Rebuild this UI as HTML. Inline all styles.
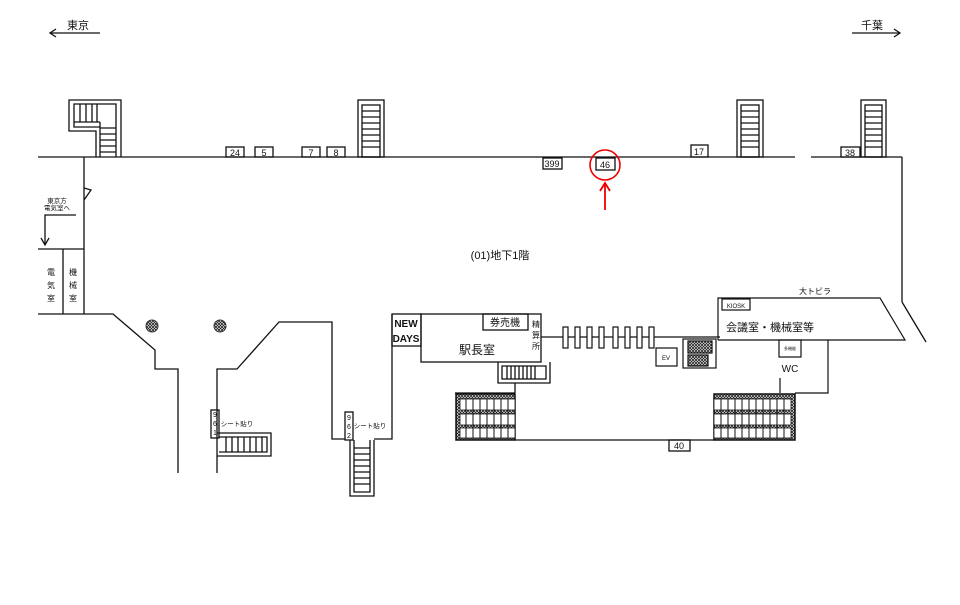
<!DOCTYPE html>
<html><head><meta charset="utf-8"><style>
html,body{margin:0;padding:0;background:#fff;}
svg{display:block;font-family:"Liberation Sans","Noto Sans CJK JP",sans-serif;}
</style></head><body>
<svg width="960" height="605" viewBox="0 0 960 605" xmlns="http://www.w3.org/2000/svg">
<defs>
<pattern id="hat" width="3" height="3" patternUnits="userSpaceOnUse"><rect width="3" height="3" fill="#fff"/><path d="M0 0L3 3M3 0L0 3" stroke="#222" stroke-width="0.8"/></pattern>
</defs>
<g fill="none" stroke="#111" stroke-width="1.3">
<!-- direction arrows -->
<line x1="50" y1="33" x2="100" y2="33"/><path d="M56 29L50 33L56 37"/>
<line x1="852" y1="33" x2="900" y2="33"/><path d="M894 29L900 33L894 37"/>
<!-- top wall -->
<line x1="38" y1="157" x2="795" y2="157"/>
<line x1="811" y1="157" x2="902" y2="157"/>
<line x1="902" y1="157" x2="902" y2="302"/>
<line x1="902" y1="302" x2="926" y2="342"/>
<!-- left wall -->
<line x1="84" y1="157" x2="84" y2="314"/>
<path d="M84 200L91 190L84 188"/>
<line x1="38" y1="249" x2="84" y2="249"/>
<line x1="63" y1="249" x2="63" y2="314"/>
<path d="M38 314L113 314L155 350L155 369L178 369L178 473"/>
<path d="M217 473L217 369L237 369L279 322L332 322L332 439L345 439"/>
<path d="M374 439L392 439L392 314"/>
<!-- east room arrow -->
<path d="M76 215L45 215L45 245"/><path d="M41 238L45 245L49 238"/>
<!-- stairs top -->
<path d="M96 157L96 131L69 131L69 100L121 100L121 157"/>
<path d="M100 157L100 127L74 127L74 104L116 104L116 157"/>
<path d="M80 104V122M86 104V122M92 104V122M97 104V122M74 122H100M100 122V127"/>
<path d="M100 134H116M100 140H116M100 146H116M100 152H116M100 128H116"/>
<rect x="358" y="100" width="26" height="57"/><rect x="362" y="105" width="18" height="52"/>
<path d="M362 111H380M362 117H380M362 123H380M362 129H380M362 135H380M362 141H380M362 147H380"/>
<rect x="737" y="100" width="26" height="57"/><rect x="741" y="105" width="18" height="52"/>
<path d="M741 111H759M741 117H759M741 123H759M741 129H759M741 135H759M741 141H759M741 147H759"/>
<rect x="861" y="100" width="25" height="57"/><rect x="865" y="105" width="17" height="52"/>
<path d="M865 111H882M865 117H882M865 123H882M865 129H882M865 135H882M865 141H882M865 147H882"/>
<!-- number boxes -->
<rect x="226" y="147" width="18" height="10"/><rect x="255" y="147" width="18" height="10"/>
<rect x="302" y="147" width="18" height="10"/><rect x="327" y="147" width="18" height="10"/>
<rect x="543" y="158" width="19" height="11"/><rect x="596" y="158" width="19" height="12"/>
<rect x="691" y="145" width="17" height="12"/><rect x="841" y="147" width="19" height="10"/>
<rect x="669" y="440" width="21" height="11"/>
<!-- 961 / 962 -->
<rect x="211" y="410" width="8" height="28"/>
<path d="M217 433L271 433L271 456L217 456"/><path d="M219 437L267 437L267 452L219 452"/>
<path d="M226 437V452M232 437V452M238 437V452M244 437V452M250 437V452M256 437V452M262 437V452"/>
<rect x="345" y="412" width="8" height="28"/>
<path d="M350 440L350 496L374 496L374 440"/><path d="M354 440L354 492L370 492L370 440"/>
<path d="M354 448H370M354 454H370M354 460H370M354 466H370M354 472H370M354 478H370M354 484H370"/>
<!-- station office -->
<rect x="392" y="314" width="29" height="32"/>
<rect x="421" y="314" width="120" height="48"/>
<rect x="483" y="314" width="45" height="16"/>
<path d="M498 362L498 383L550 383L550 362"/><path d="M502 366L546 366L546 379L502 379Z"/>
<path d="M507 366V379M511 366V379M515 366V379M519 366V379M523 366V379M527 366V379M531 366V379M535 366V379"/>
<line x1="515" y1="383" x2="515" y2="393"/>
<!-- gates -->
<line x1="541" y1="337" x2="720" y2="337"/>
<line x1="598" y1="337" x2="598" y2="337"/>
</g>
<g fill="#fff" stroke="#111" stroke-width="1.2">
<rect x="563" y="327" width="5" height="21"/><rect x="575" y="327" width="5" height="21"/>
<rect x="587" y="327" width="5" height="21"/><rect x="599" y="327" width="5" height="21"/>
<rect x="613" y="327" width="5" height="21"/><rect x="625" y="327" width="5" height="21"/>
<rect x="637" y="327" width="5" height="21"/><rect x="649" y="327" width="5" height="21"/>
</g>
<g fill="none" stroke="#111" stroke-width="1.2">
<rect x="656" y="348" width="21" height="18"/>
<rect x="683" y="339" width="33" height="29"/>
<rect x="688" y="341" width="24" height="12" fill="url(#hat)"/>
<rect x="688" y="355" width="20" height="11" fill="url(#hat)"/>
<path d="M718 340L718 298L880 298L905 340L718 340"/>
<rect x="722" y="299" width="28" height="11"/>
<rect x="779" y="340" width="22" height="17"/>
<path d="M828 340L828 393L795 393"/>
<line x1="780" y1="378" x2="780" y2="393"/>
<line x1="515" y1="440" x2="714" y2="440"/>
<line x1="515" y1="393" x2="455" y2="393"/>
</g>
<!-- hatched stair blocks -->
<g stroke="#111">
<rect x="456" y="394" width="59" height="46" fill="url(#hat)" stroke-width="1.5"/>
<rect x="460" y="399" width="55" height="11" fill="#fff" stroke-width="0.8"/>
<rect x="460" y="414" width="55" height="11" fill="#fff" stroke-width="0.8"/>
<rect x="460" y="428" width="55" height="10" fill="#fff" stroke-width="0.8"/>
<path d="M466 399V438M473 399V438M480 399V438M487 399V438M494 399V438M501 399V438M508 399V438" stroke-width="1"/>
<rect x="714" y="394" width="81" height="46" fill="url(#hat)" stroke-width="1.5"/>
<rect x="714" y="399" width="77" height="11" fill="#fff" stroke-width="0.8"/>
<rect x="714" y="414" width="77" height="11" fill="#fff" stroke-width="0.8"/>
<rect x="714" y="428" width="77" height="10" fill="#fff" stroke-width="0.8"/>
<path d="M721 399V438M728 399V438M735 399V438M742 399V438M749 399V438M756 399V438M763 399V438M770 399V438M777 399V438M784 399V438" stroke-width="1"/>
</g>
<!-- pillars -->
<circle cx="152" cy="326" r="6" fill="url(#hat)" stroke="#333"/>
<circle cx="220" cy="326" r="6" fill="url(#hat)" stroke="#333"/>
<!-- red marker -->
<circle cx="605" cy="165" r="15" fill="none" stroke="#e00" stroke-width="1.6"/>
<line x1="605" y1="210" x2="605" y2="185" stroke="#e00" stroke-width="1.8"/>
<path d="M600 191L605 183L610 191" fill="none" stroke="#e00" stroke-width="1.8"/>
<!-- text -->
<g fill="#111" font-size="9" text-anchor="middle">
<text x="78" y="29" font-size="11">東京</text>
<text x="872" y="29" font-size="11">千葉</text>
<text x="235" y="156">24</text><text x="264" y="156">5</text>
<text x="311" y="156">7</text><text x="336" y="156">8</text>
<text x="552" y="167">399</text><text x="605" y="168">46</text>
<text x="699" y="155">17</text><text x="850" y="156">38</text>
<text x="679" y="449">40</text>
<text x="500" y="259" font-size="11">(01)地下1階</text>
<text x="57" y="203" font-size="6.5">東京方</text>
<text x="57" y="210" font-size="6.5">電気室へ</text>
<text x="51" y="275" font-size="8">電</text><text x="51" y="288" font-size="8">気</text><text x="51" y="301" font-size="8">室</text>
<text x="73" y="275" font-size="8">機</text><text x="73" y="288" font-size="8">械</text><text x="73" y="301" font-size="8">室</text>
<text x="406" y="327" font-size="10" font-weight="bold">NEW</text>
<text x="406" y="342" font-size="10" font-weight="bold">DAYS</text>
<text x="505" y="326" font-size="10">券売機</text>
<text x="477" y="354" font-size="12">駅長室</text>
<text x="536" y="327" font-size="8">精</text><text x="536" y="338" font-size="8">算</text><text x="536" y="349" font-size="8">所</text>
<text x="666" y="360" font-size="6">EV</text>
<text x="736" y="308" font-size="6">KIOSK</text>
<text x="815" y="294" font-size="8">大トビラ</text>
<text x="770" y="331" font-size="11">会議室・機械室等</text>
<text x="790" y="350" font-size="4">多機能</text>
<text x="790" y="372" font-size="10">WC</text>
<text x="215" y="417" font-size="7">9</text><text x="215" y="426" font-size="7">6</text><text x="215" y="435" font-size="7">1</text>
<text x="349" y="420" font-size="7">9</text><text x="349" y="429" font-size="7">6</text><text x="349" y="438" font-size="7">2</text>
<text x="237" y="426" font-size="6.5">シート貼り</text>
<text x="370" y="428" font-size="6.5">シート貼り</text>
</g>
</svg>
</body></html>
